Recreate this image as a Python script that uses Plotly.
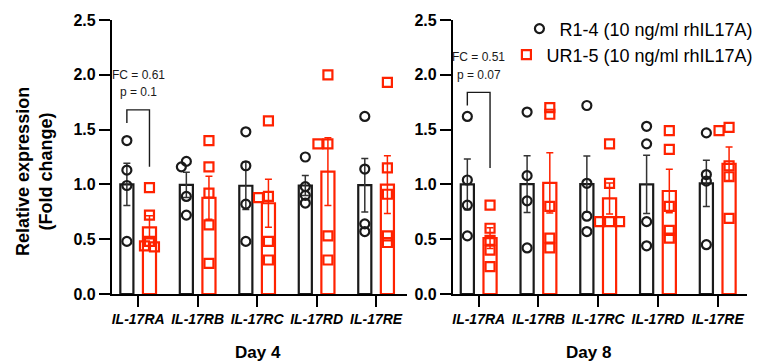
import numpy as np
import plotly.graph_objects as go

# ---------------- data ----------------
genes = ["IL-17RA", "IL-17RB", "IL-17RC", "IL-17RD", "IL-17RE"]
days = ["Day 4", "Day 8"]
series_names = ["R1-4 (10 ng/ml rhIL17A)", "UR1-5 (10 ng/ml rhIL17A)"]

day4_R = [[1.40, 1.13, 0.99, 0.48], [1.21, 1.16, 0.89, 0.72], [1.48, 1.17, 0.82, 0.48],
          [1.25, 0.98, 0.90, 0.83], [1.62, 1.14, 0.64, 0.57]]
day4_UR = [[0.97, 0.72, 0.48, 0.44, 0.43], [1.40, 1.16, 0.92, 0.63, 0.28], [1.58, 0.89, 0.88, 0.48, 0.31],
           [2.00, 1.37, 1.37, 0.53, 0.31], [1.93, 1.15, 0.91, 0.53, 0.47]]
day8_R = [[1.62, 1.04, 0.81, 0.53], [1.66, 1.08, 0.85, 0.42], [1.72, 1.01, 0.71, 0.57],
          [1.53, 1.37, 0.66, 0.44], [1.47, 1.09, 1.03, 0.45]]
day8_UR = [[0.81, 0.60, 0.49, 0.40, 0.25], [1.70, 1.64, 0.80, 0.51, 0.42], [1.37, 1.01, 0.66, 0.66, 0.66],
           [1.49, 1.32, 0.80, 0.58, 0.51], [1.52, 1.49, 1.17, 1.07, 0.69]]

fc_labels = ["FC = 0.61", "FC = 0.51"]
p_labels = ["p = 0.1", "p = 0.07"]
bracket_top = [1.68, 1.84]
bracket_left_end = [1.56, 1.72]
bracket_right_end = [1.16, 1.15]
fc_label_y = [2.00, 2.16]
p_label_y = [1.84, 2.00]
y_ticks = [0.0, 0.5, 1.0, 1.5, 2.0, 2.5]

# ---------------- style ----------------
FONT = "Liberation Sans, Arial, sans-serif"
BLACK = "#1a1a1a"
RED = "#ff2200"
OFF = 0.19        # bar centre offset from category tick
BAR_W = 0.22
PX_PER_X = 59.6   # approx px per category unit
PX_PER_Y = 109.6  # approx px per y unit


def swarm(vals, step_px=5.0, min_d=6.0):
    """simple beeswarm horizontal offsets (in category units)"""
    placed = []
    offs = []
    for v in vals:
        yp = v * PX_PER_Y
        for k in [0, -1, 1, -2, 2, -3, 3]:
            xp = k * step_px
            if all(np.hypot(xp - px, yp - py) >= min_d for px, py in placed):
                break
        placed.append((xp, yp))
        offs.append(xp / PX_PER_X)
    return offs


fig = go.Figure()
panels = [(day4_R, day4_UR), (day8_R, day8_UR)]
legend_ids = ["legend", "legend2"]
for p, (R, UR) in enumerate(panels):
    xa = "x" if p == 0 else "x2"
    ya = "y" if p == 0 else "y2"
    for s, (grp, col, sym) in enumerate([(R, BLACK, "circle-open"), (UR, RED, "square-open")]):
        sign = -1 if s == 0 else 1
        centres = [i + sign * OFF for i in range(len(genes))]
        means = [float(np.mean(g)) for g in grp]
        sems = [float(np.std(g, ddof=1) / np.sqrt(len(g))) for g in grp]
        fig.add_trace(go.Bar(
            x=centres, y=means, width=BAR_W, xaxis=xa, yaxis=ya,
            marker=dict(color="rgba(255,255,255,0)", line=dict(color=col, width=2.2)),
            error_y=dict(type="data", array=sems, visible=True, color=col if s else "#333333",
                         thickness=1.5, width=3.5),
            showlegend=False, hoverinfo="skip"))
        xs, ys = [], []
        for c, g in zip(centres, grp):
            offs = swarm(g)
            xs += [c + o for o in offs]
            ys += list(g)
        fig.add_trace(go.Scatter(
            x=xs, y=ys, mode="markers", xaxis=xa, yaxis=ya,
            marker=dict(symbol=sym, size=9, color=col, line=dict(color=col, width=2.2)),
            name=series_names[s], legendgroup=series_names[s], legend=legend_ids[s],
            showlegend=(p == 0)))

    # significance bracket on IL-17RA
    fig.add_shape(type="path", xref=xa, yref=ya,
                  path=f"M {-OFF},{bracket_left_end[p]} L {-OFF},{bracket_top[p]} "
                       f"L {OFF},{bracket_top[p]} L {OFF},{bracket_right_end[p]}",
                  line=dict(color=BLACK, width=1.4))
    fig.add_annotation(x=0, y=fc_label_y[p], xref=xa, yref=ya, text=fc_labels[p], showarrow=False,
                       font=dict(family=FONT, size=12, color=BLACK))
    fig.add_annotation(x=0, y=p_label_y[p], xref=xa, yref=ya, text=p_labels[p], showarrow=False,
                       font=dict(family=FONT, size=12, color=BLACK))

tick_text = [f"<b><i>{g}</i></b>" for g in genes]
axis_common = dict(showgrid=False, zeroline=False, showline=True, linecolor="black", linewidth=2.2,
                   ticks="outside", ticklen=11, tickwidth=2.2, tickcolor="black")
xcommon = dict(axis_common, tickvals=list(range(len(genes))), ticktext=tick_text,
               tickfont=dict(family=FONT, size=14, color="black"))
ycommon = dict(axis_common, range=[0, 2.5], tickvals=y_ticks, tickformat=".1f",
               tickfont=dict(family=FONT, size=16, color="black", weight="bold"))
legend_common = dict(x=1.018, xanchor="right", yanchor="top", bgcolor="rgba(0,0,0,0)",
                     font=dict(family=FONT, size=18, color="black"), itemwidth=30)

fig.update_layout(
    width=758, height=364,
    margin=dict(l=112, r=11, t=20, b=70, autoexpand=False),
    paper_bgcolor="white", plot_bgcolor="white",
    barmode="overlay",
    font=dict(family=FONT, color="black"),
    xaxis=dict(xcommon, domain=[0, 0.4646], range=[-0.44, 4.52]),
    xaxis2=dict(xcommon, domain=[0.537, 1], range=[-0.43, 4.49], anchor="y2"),
    yaxis=dict(ycommon, anchor="x"),
    yaxis2=dict(ycommon, anchor="x2"),
    legend=dict(legend_common, y=1.035),
    legend2=dict(legend_common, y=0.94),
    showlegend=True,
)

for p, d in enumerate(days):
    fig.add_annotation(x=[0.23, 0.75][p], y=-0.2117, xref="paper", yref="paper", text=f"<b>{d}</b>",
                       showarrow=False, xanchor="center", yanchor="middle",
                       font=dict(family=FONT, size=17, color="black"))

fig.add_annotation(x=-0.1213, y=0.449, xref="paper", yref="paper",
                   text="<b>Relative expression<br>(Fold change)</b>", textangle=-90, showarrow=False,
                   xanchor="center", yanchor="middle",
                   font=dict(family=FONT, size=18, color="black"))

fig.write_html("out.html", config={"displayModeBar": False},
               post_script="document.body.style.margin='0';document.body.style.padding='0';")
